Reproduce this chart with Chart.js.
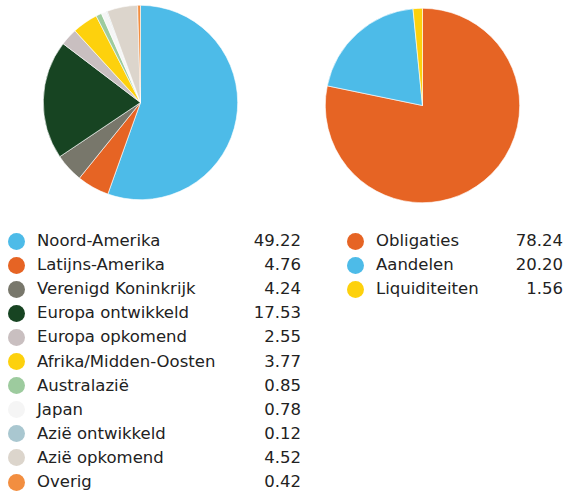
<!DOCTYPE html>
<html>
<head>
<meta charset="utf-8">
<script src="https://cdn.jsdelivr.net/npm/chart.js@4/dist/chart.umd.min.js"></script>
<style>
  html, body { margin: 0; padding: 0; background: #fff; }
  body { width: 565px; height: 493px; position: relative; overflow: hidden;
         font-family: "DejaVu Sans", sans-serif; color: #222; }
  .pie { position: absolute; }
  .legend { position: absolute; }
  .row { position: absolute; height: 24px; line-height: 24px; font-size: 16.5px; white-space: nowrap; }
  .dot { position: absolute; width: 17px; height: 17px; border-radius: 50%; top: 3.5px; }
  .lab { position: absolute; }
  .val { position: absolute; text-align: right; }
</style>
</head>
<body>
<div class="pie" id="p1wrap" style="left:43px;top:5px;width:195px;height:195px;"><canvas id="pie1" width="195" height="195"></canvas></div>
<div class="pie" id="p2wrap" style="left:325px;top:8px;width:195px;height:195px;"><canvas id="pie2" width="195" height="195"></canvas></div>
<div id="leg1" class="legend"></div>
<div id="leg2" class="legend"></div>
<script>
const regionLabels = ["Noord-Amerika","Latijns-Amerika","Verenigd Koninkrijk","Europa ontwikkeld","Europa opkomend","Afrika/Midden-Oosten","Australazië","Japan","Azië ontwikkeld","Azië opkomend","Overig"];
const regionValues = [49.22, 4.76, 4.24, 17.53, 2.55, 3.77, 0.85, 0.78, 0.12, 4.52, 0.42];
const regionColors = ["#4dbbe8","#e66424","#78776b","#174422","#c9bfc0","#fdd10d","#9dcb9e","#f5f5f5","#a9c7d0","#dcd5cc","#f28e40"];

const assetLabels = ["Obligaties","Aandelen","Liquiditeiten"];
const assetValues = [78.24, 20.20, 1.56];
const assetColors = ["#e66424","#4dbbe8","#fdd10d"];

function makePie(id, labels, values, colors) {
  new Chart(document.getElementById(id), {
    type: 'pie',
    data: { labels: labels, datasets: [{ data: values, backgroundColor: colors, borderColor: '#ffffff', borderWidth: 0.6 }] },
    options: {
      responsive: false, animation: false, events: [],
      layout: { padding: 0 },
      plugins: { legend: { display: false }, tooltip: { enabled: false } }
    }
  });
}
makePie('pie1', regionLabels, regionValues, regionColors);
makePie('pie2', assetLabels, assetValues, assetColors);

function makeLegend(id, labels, values, colors, geom) {
  const el = document.getElementById(id);
  labels.forEach((lab, i) => {
    const row = document.createElement('div');
    row.className = 'row';
    row.style.left = '0px';
    row.style.top = (geom.top + i * 24.1) + 'px';
    row.style.width = '565px';
    const d = document.createElement('div'); d.className = 'dot';
    d.style.left = geom.dotX + 'px'; d.style.background = colors[i];
    const t = document.createElement('div'); t.className = 'lab';
    t.style.left = geom.textX + 'px'; t.textContent = lab;
    const v = document.createElement('div'); v.className = 'val';
    v.style.left = (geom.valRight - 80) + 'px'; v.style.width = '80px';
    v.textContent = values[i].toFixed(2);
    row.appendChild(d); row.appendChild(t); row.appendChild(v);
    el.appendChild(row);
  });
}
makeLegend('leg1', regionLabels, regionValues, regionColors, { top: 229, dotX: 7.5, textX: 37, valRight: 301 });
makeLegend('leg2', assetLabels, assetValues, assetColors, { top: 229, dotX: 347, textX: 376, valRight: 563 });
</script>
</body>
</html>
